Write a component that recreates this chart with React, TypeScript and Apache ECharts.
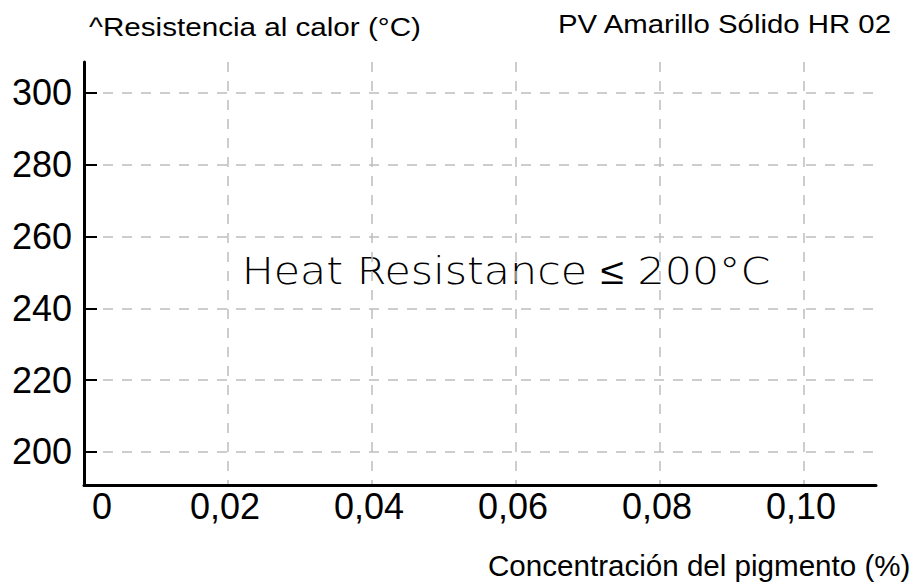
import React, { useEffect, useRef } from 'react';
import * as echarts from 'echarts';

// ---- data / tick values ----
const yTickValues = [200, 220, 240, 260, 280, 300];
const xTickValues = [0, 0.02, 0.04, 0.06, 0.08, 0.1];
const yRange = [190.8, 308.6];
const xRange = [0, 0.11];
const xInterval = 0.02;
const seriesValues: [number, number][] = []; // the chart shows no measured points
const yAxisTitle = '^Resistencia al calor (°C)';
const chartTitle = 'PV Amarillo Sólido HR 02';
const xAxisTitle = 'Concentración del pigmento (%)';
const noteText = 'Heat Resistance ≤ 200°C';

const FONT = '"Liberation Sans", Arial, sans-serif';
const GRID_COLOR = '#bdbdbd';

function fmtX(v: number): string {
  if (Math.abs(v) < 1e-9) return '{z|0}';
  const hit = xTickValues.find((t) => Math.abs(t - v) < 1e-9);
  if (hit === undefined) return '';
  return '{n|' + hit.toFixed(2).replace('.', ',') + '}';
}

function textEl(text: string, x: number, y: number, size: number, sx: number, align: string, family = FONT, weight: any = 'normal') {
  return {
    type: 'text',
    x,
    y,
    scaleX: sx,
    silent: true,
    style: {
      text,
      fill: '#000',
      fontSize: size,
      fontFamily: family,
      fontWeight: weight,
      align,
      textAlign: align,
      verticalAlign: 'middle',
      textVerticalAlign: 'middle',
    },
  };
}

export default function App() {
  const ref = useRef<HTMLDivElement>(null);

  useEffect(() => {
    if (!ref.current) return;
    const chart = echarts.init(ref.current, undefined, { renderer: 'svg' });
    const labelBase = { fontSize: 36, fontFamily: FONT, color: '#000' };
    chart.setOption({
      animation: false,
      backgroundColor: '#ffffff',
      grid: { left: 84, right: 42, top: 62, bottom: 101 },
      xAxis: {
        type: 'value',
        min: xRange[0],
        max: xRange[1],
        interval: xInterval,
        axisLine: { show: true, onZero: false, lineStyle: { color: '#000', width: 3 } },
        axisTick: { show: false },
        axisLabel: {
          ...labelBase,
          margin: 3,
          showMinLabel: true,
          showMaxLabel: false,
          formatter: (v: number) => fmtX(v),
          rich: {
            z: { ...labelBase, padding: [0, 0, 0, 36] },
            n: { ...labelBase, padding: [0, 6, 0, 0] },
          },
        },
        splitLine: {
          show: true,
          showMinLine: false,
          showMaxLine: false,
          lineStyle: { color: GRID_COLOR, width: 1.5, type: [10, 9] },
        },
      },
      yAxis: {
        type: 'value',
        min: yRange[0],
        max: yRange[1],
        axisLine: { show: true, onZero: false, lineStyle: { color: '#000', width: 3 } },
        axisTick: {
          show: true,
          inside: true,
          length: 13,
          customValues: yTickValues,
          lineStyle: { color: '#000', width: 2 },
        },
        axisLabel: {
          ...labelBase,
          margin: 12,
          customValues: yTickValues,
          formatter: (v: number) => String(Math.round(v)),
        },
        splitLine: {
          show: true,
          lineStyle: { color: GRID_COLOR, width: 1.5, type: [10, 9] },
        },
      },
      series: [
        {
          type: 'line',
          data: seriesValues,
          showSymbol: false,
        },
      ],
      graphic: [
        textEl(yAxisTitle, 89, 27.5, 26, 1.14, 'left'),
        textEl(chartTitle, 558, 24, 26, 1.13, 'left'),
        textEl(xAxisTitle, 488, 565.5, 29, 1.02, 'left'),
        textEl(noteText, 506, 271.5, 37, 1.155, 'center', '"DejaVu Sans", sans-serif', 200),
      ],
    });
    return () => chart.dispose();
  }, []);

  return (
    <div
      ref={ref}
      style={{ position: 'fixed', left: 0, top: 0, width: 918, height: 586, background: '#fff' }}
    />
  );
}
